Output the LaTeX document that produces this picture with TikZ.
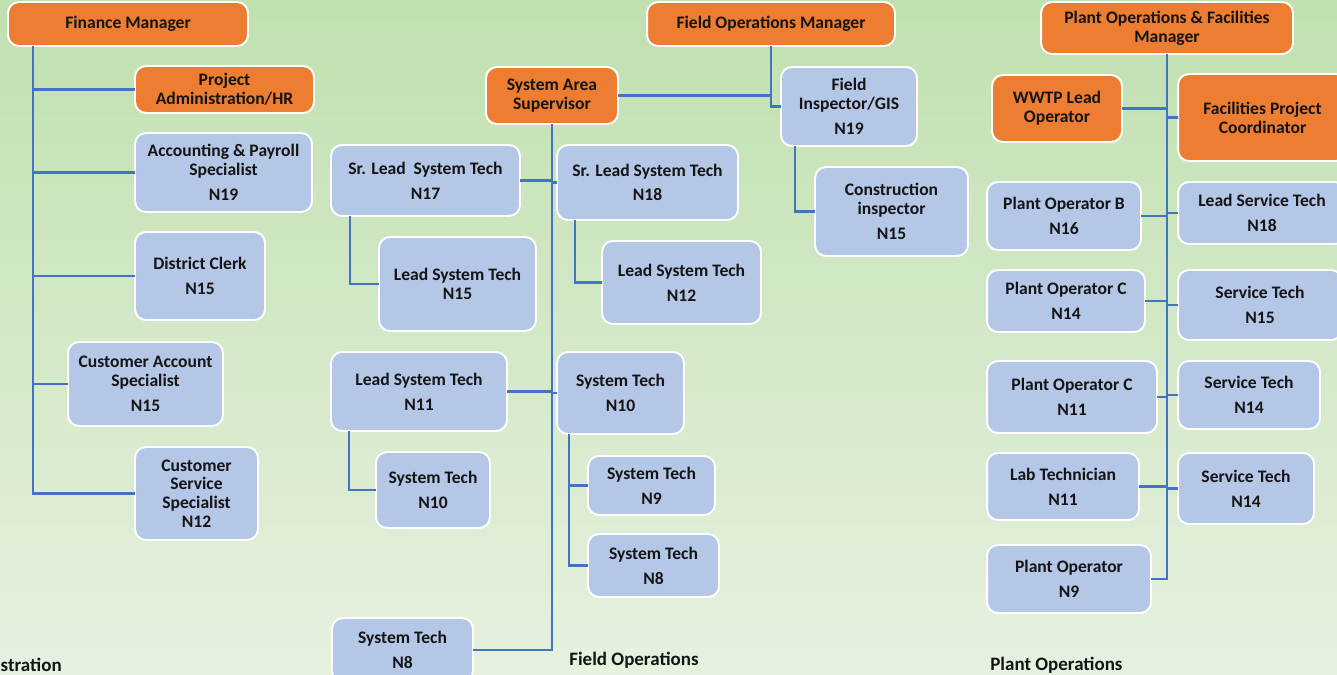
\documentclass[tikz,border=0pt]{standalone}
\usepackage{fontspec}
\setmainfont{Carlito}
\usetikzlibrary{positioning,calc}
\definecolor{orgbox}{RGB}{237,125,49}
\definecolor{bluebox}{RGB}{180,199,231}
\definecolor{linkblue}{RGB}{68,114,196}
\definecolor{bgtop}{RGB}{192,224,175}
\definecolor{bgbottom}{RGB}{230,241,224}
\def \nGap {3.4pt}
\tikzset{
 	staffblock/.style= {draw=white, line width=1.1pt, fill=bluebox, rounded corners=0.22cm, align=center, inner sep=1pt, outer sep=0pt, font=\fontsize{10}{10.7}\selectfont\bfseries, text=black!92},
 	leadblock/.style= {staffblock, fill=orgbox},
 	link/.style= {draw=linkblue, line width=1.3pt},
 	grouplabel/.style= {font=\fontsize{10.8}{12}\selectfont\bfseries, text=black!92, inner sep=0pt}
 }
\begin{document}
\begin{tikzpicture}[x=0.02cm, y=-0.02cm]
	\useasboundingbox (0,0) rectangle (1337,674);
	\clip (0,0) rectangle (1337,674);
	\fill[top color=bgtop, bottom color=bgbottom] (0,0) rectangle (1337,674);

%%%%%%%%%%%%%%%%%%%%% Administration %%%%%%%%%%%%%%%%%%%%%
	\node [leadblock, minimum width=4.8cm, minimum height=0.88cm] (finmgr) at (128,24) {Finance Manager};
	\node [leadblock, minimum width=3.58cm, minimum height=0.94cm] (projadmin) at (224.5,89.5) {Project\\Administration/HR};
	\node [staffblock, minimum width=3.54cm, minimum height=1.58cm] (acct) at (223.5,172.5) {Accounting \& Payroll\\Specialist\\[\nGap]N19};
	\node [staffblock, minimum width=2.6cm, minimum height=1.76cm] (clerk) at (200,276) {District Clerk\\[\nGap]N15};
	\node [staffblock, minimum width=3.1cm, minimum height=1.68cm] (custacct) at (145.5,384) {Customer Account\\Specialist\\[\nGap]N15};
	\node [staffblock, minimum width=2.46cm, minimum height=1.86cm] (custserv) at (196.5,493.5) {Customer\\Service\\Specialist\\N12};
	\node [grouplabel, anchor=base east] (adminlabel) at (62,671) {Administration};

%%%%%%%%%%%%%%%%%%%%% Field Operations %%%%%%%%%%%%%%%%%%%%%
	\node [leadblock, minimum width=4.96cm, minimum height=0.88cm] (fieldmgr) at (771,24) {Field Operations Manager};
	\node [leadblock, minimum width=2.64cm, minimum height=1.14cm] (sas) at (552,95.5) {System Area\\Supervisor};
	\node [staffblock, minimum width=2.72cm, minimum height=1.58cm] (fieldinsp) at (849,106.5) {Field\\Inspector/GIS\\[\nGap]N19};
	\node [staffblock, minimum width=3.06cm, minimum height=1.78cm] (constinsp) at (891.5,211.5) {Construction\\inspector\\[\nGap]N15};

	\node [staffblock, minimum width=3.78cm, minimum height=1.42cm] (srlead17) at (425.5,180.5) {Sr. Lead~ System Tech\\[\nGap]N17};
	\node [staffblock, minimum width=3.62cm, minimum height=1.5cm] (srlead18) at (647.5,182.5) {Sr. Lead System Tech\\[\nGap]N18};
	\node [staffblock, minimum width=3.14cm, minimum height=1.88cm] (lead15) at (457.5,284) {Lead System Tech\\N15};
	\node [staffblock, minimum width=3.18cm, minimum height=1.66cm] (lead12) at (681.5,282.5) {Lead System Tech\\[\nGap]N12};
	\node [staffblock, minimum width=3.52cm, minimum height=1.58cm] (lead11) at (419,391.5) {Lead System Tech\\[\nGap]N11};
	\node [staffblock, minimum width=2.54cm, minimum height=1.64cm] (st10a) at (620.5,393) {System Tech\\[\nGap]N10};
	\node [staffblock, minimum width=2.28cm, minimum height=1.52cm] (st10b) at (433,490) {System Tech\\[\nGap]N10};
	\node [staffblock, minimum width=2.54cm, minimum height=1.18cm] (st9) at (651.5,485.5) {System Tech\\[\nGap]N9};
	\node [staffblock, minimum width=2.62cm, minimum height=1.26cm] (st8a) at (653.5,565.5) {System Tech\\[\nGap]N8};
	\node [staffblock, minimum width=2.82cm, minimum height=1.28cm] (st8b) at (402.5,650) {System Tech\\[\nGap]N8};
	\node [grouplabel, anchor=base west] (fieldlabel) at (569,665) {Field Operations};

%%%%%%%%%%%%%%%%%%%%% Plant Operations %%%%%%%%%%%%%%%%%%%%%
	\node [leadblock, minimum width=5.04cm, minimum height=1.04cm] (plantmgr) at (1167,28) {Plant Operations \& Facilities\\Manager};
	\node [leadblock, minimum width=2.6cm, minimum height=1.34cm] (wwtp) at (1057,108.5) {WWTP Lead\\Operator};
	\node [leadblock, minimum width=3.38cm, minimum height=1.74cm] (facil) at (1262.5,117.5) {Facilities Project\\Coordinator};
	\node [staffblock, minimum width=3.08cm, minimum height=1.36cm] (pob) at (1064,216) {Plant Operator B\\[\nGap]N16};
	\node [staffblock, minimum width=3.36cm, minimum height=1.24cm] (lst18) at (1262,213) {Lead Service Tech\\[\nGap]N18};
	\node [staffblock, minimum width=3.16cm, minimum height=1.24cm] (poc14) at (1066,301) {Plant Operator C\\[\nGap]N14};
	\node [staffblock, minimum width=3.28cm, minimum height=1.4cm] (st15) at (1260,305) {Service Tech\\[\nGap]N15};
	\node [staffblock, minimum width=3.4cm, minimum height=1.44cm] (poc11) at (1072,397) {Plant Operator C\\[\nGap]N11};
	\node [staffblock, minimum width=2.84cm, minimum height=1.36cm] (st14a) at (1249,395) {Service Tech\\[\nGap]N14};
	\node [staffblock, minimum width=3.04cm, minimum height=1.34cm] (labtech) at (1063,486.5) {Lab Technician\\[\nGap]N11};
	\node [staffblock, minimum width=2.72cm, minimum height=1.42cm] (st14b) at (1246,488.5) {Service Tech\\[\nGap]N14};
	\node [staffblock, minimum width=3.28cm, minimum height=1.36cm] (plantop) at (1069,579) {Plant Operator\\[\nGap]N9};
	\node [grouplabel, anchor=base west] (plantlabel) at (990,670) {Plant Operations};

%%%%%%%%%%%%%%%%%%%%% Links %%%%%%%%%%%%%%%%%%%%%
	\coordinate (fintrunk) at ($(finmgr.south west)+(25,0)$);
	\draw[link] (fintrunk) |- (projadmin.west);
	\draw[link] (fintrunk) |- (acct.west);
	\draw[link] (fintrunk) |- (clerk.west);
	\draw[link] (fintrunk) |- (custacct.west);
	\draw[link] (fintrunk) |- (custserv.west);

	\draw[link] (fieldmgr.south) |- (fieldinsp.west);
	\draw[link] (fieldmgr.south) |- (sas.east);
	\draw[link] ($(fieldinsp.south west)+(14,0)$) |- (constinsp.west);

	\draw[link] (sas.south) |- (srlead17.east);
	\draw[link] (sas.south) |- (srlead18.west);
	\draw[link] (sas.south) |- (lead11.east);
	\draw[link] (sas.south) |- (st10a.west);
	\draw[link] (sas.south) |- (st8b.east);
	\draw[link] ($(srlead17.south west)+(19,0)$) |- (lead15.west);
	\draw[link] ($(srlead18.south west)+(18,0)$) |- (lead12.west);
	\draw[link] ($(lead11.south west)+(18,0)$) |- (st10b.west);
	\draw[link] ($(st10a.south west)+(12,0)$) |- (st9.west);
	\draw[link] ($(st10a.south west)+(12,0)$) |- (st8a.west);

	\draw[link] (plantmgr.south) |- (wwtp.east);
	\draw[link] (plantmgr.south) |- (facil.west);
	\draw[link] (plantmgr.south) |- (pob.east);
	\draw[link] (plantmgr.south) |- (lst18.west);
	\draw[link] (plantmgr.south) |- (poc14.east);
	\draw[link] (plantmgr.south) |- (st15.west);
	\draw[link] (plantmgr.south) |- (poc11.east);
	\draw[link] (plantmgr.south) |- (st14a.west);
	\draw[link] (plantmgr.south) |- (labtech.east);
	\draw[link] (plantmgr.south) |- (st14b.west);
	\draw[link] (plantmgr.south) |- (plantop.east);

\end{tikzpicture}
\end{document}
